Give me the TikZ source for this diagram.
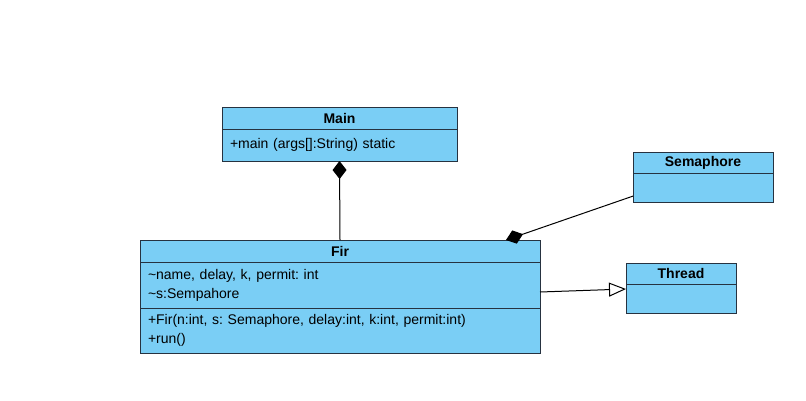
\documentclass[tikz,border=0pt]{standalone}
\usepackage{fontspec}
\setmainfont{Liberation Sans}
\usetikzlibrary{positioning,calc,arrows.meta}
\definecolor{umlblue}{RGB}{122,206,245}
\definecolor{umlline}{RGB}{38,50,64}
\frenchspacing
\begin{document}
\begin{tikzpicture}[x=1pt, y=-1pt, line width=1pt,
		head/.style = {draw=umlline, fill=umlblue, line width=1pt, outer sep=0pt, inner sep=0pt, anchor=north west, minimum height=22, font=\fontsize{14}{19}\selectfont\bfseries},
		part/.style = {draw=umlline, fill=umlblue, line width=1pt, outer sep=0pt, inner xsep=8pt, inner ysep=0pt, align=left, font=\fontsize{14}{19}\selectfont},
		comp/.style = {-{Diamond[length=18pt, width=14pt]}},
		inherit/.style = {-{Triangle[open, fill=white, length=17pt, width=14pt]}}]
		\useasboundingbox (0,0) rectangle (806,400);
		\node[head, minimum width=235] (main) at (222,107) {Main};
		\node[part, below=0pt of main, minimum height=32, text width=219] (mainops) {+main (args[]:String) static};
		\node[head, minimum width=400] (fir) at (140,240) {Fir};
		\node[part, below=0pt of fir, minimum height=46, text width=384] (firattr) {\textasciitilde name, delay, k, permit: int\\\textasciitilde s:Sempahore};
		\node[part, below=0pt of firattr, minimum height=45, text width=384] (firops) {+Fir(n:int, s: Semaphore, delay:int, k:int, permit:int)\\+run()};
		\node[head, minimum width=140, minimum height=21] (sema) at (633,152) {Semaphore};
		\node[part, below=0pt of sema, minimum height=29, text width=124] (semabody) {};
		\node[head, minimum width=110, minimum height=21] (thread) at (626,263) {Thread};
		\node[part, below=0pt of thread, minimum height=29, text width=94] (threadbody) {};
		\draw[comp] (fir.north) -- (mainops.south);
		\draw[comp] (semabody.187) -- ($(fir.north)+(166,0)$);
		\draw[inherit] ($(firattr.east)+(0,7)$) -- ($(threadbody.north west)+(0,5)$);
	\end{tikzpicture}
\end{document}
